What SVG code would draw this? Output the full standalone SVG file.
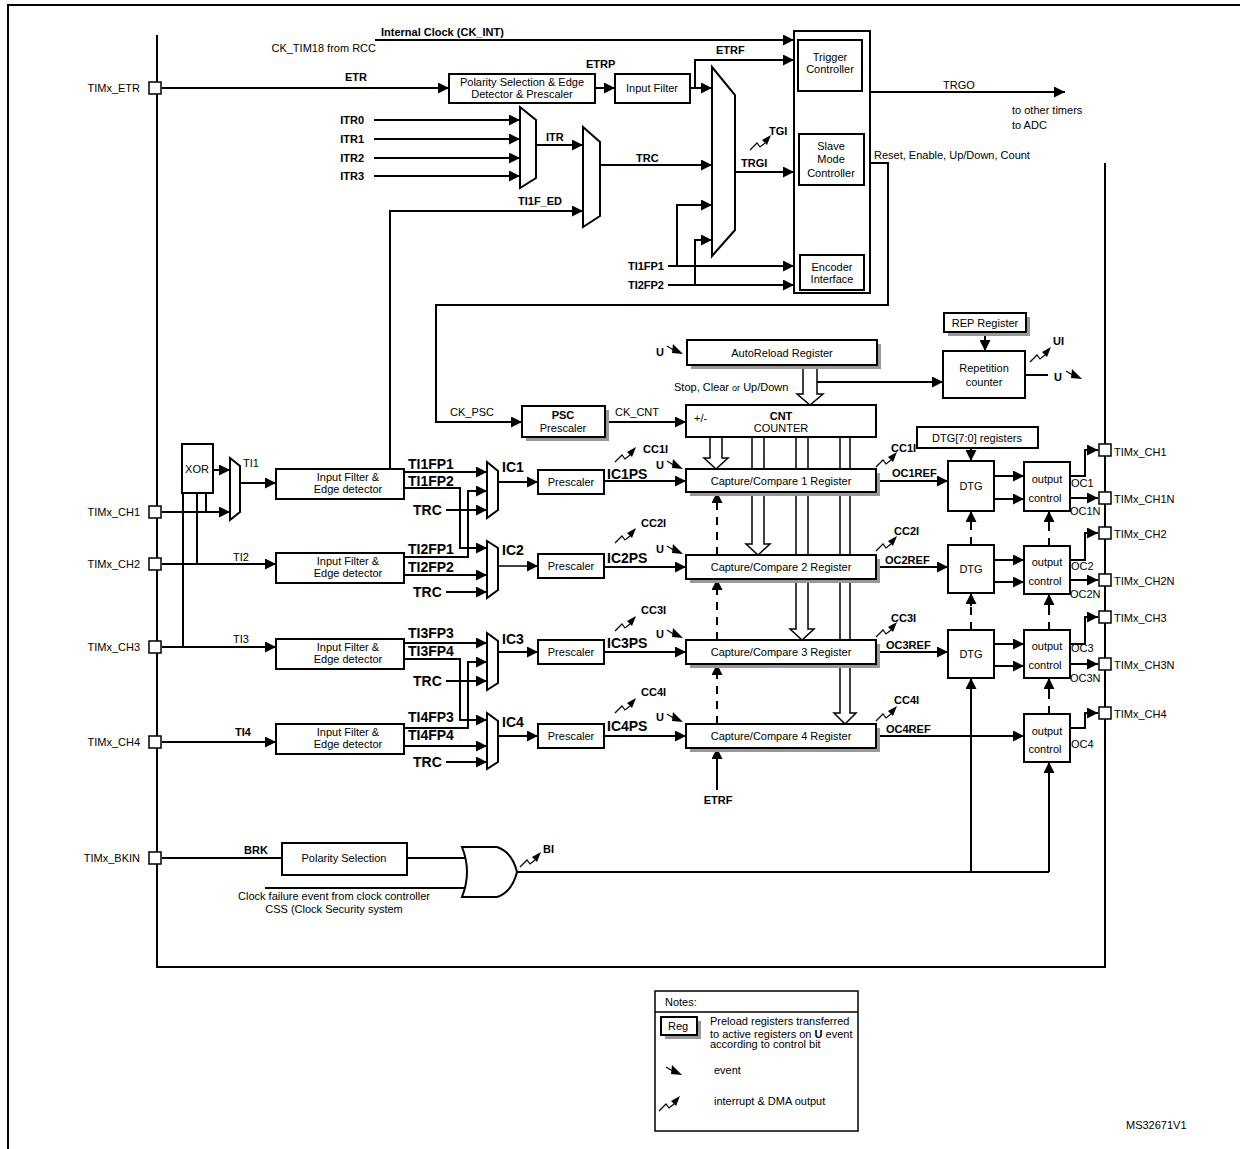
<svg xmlns="http://www.w3.org/2000/svg" width="1240" height="1149" viewBox="0 0 1240 1149">
<style>
text{font-family:"Liberation Sans",Arial,sans-serif;font-size:11px;fill:#000}
.b{font-weight:bold}
.m{text-anchor:middle}
.e{text-anchor:end}
.big{font-size:14px;font-weight:bold}
.box{fill:#fff;stroke:#000;stroke-width:2}
.sh{fill:#999}
.ln{fill:none;stroke:#000;stroke-width:2}
.thin{fill:none;stroke:#000;stroke-width:1.3}
.ar{marker-end:url(#a)}
.da{stroke-dasharray:8,7}
.ho{fill:#fff;stroke:#000;stroke-width:1.5}
</style>
<defs>
<marker id="a" viewBox="0 0 10 10" refX="10" refY="5" markerWidth="11" markerHeight="11" markerUnits="userSpaceOnUse" orient="auto"><path d="M0,0 L10,5 L0,10z"/></marker>
<symbol id="ev" overflow="visible"><path d="M0,0 L8,5 L8,1" fill="none" stroke="#000" stroke-width="1.2"/><path d="M6,-2 L16,8 L5,7z"/></symbol>
<symbol id="ir" overflow="visible"><path d="M0,10 L7,3 L10,7 L15,3" fill="none" stroke="#000" stroke-width="1.2"/><path d="M12,0 L21,-5 L17,5z"/></symbol>
</defs>
<rect width="1240" height="1149" fill="#fff"/>
<path d="M8,1149 V5 H1240" class="ln"/>
<path d="M157,35 V967 H1105 V163" class="ln" stroke-width="2.5"/>

<g id="connectors">
<path class="ln ar" d="M375,40 H794"/>
<path class="ln ar" d="M162,88 H449"/>
<path class="ln ar" d="M595,88 H615"/>
<path class="ln ar" d="M690,88 H712"/>
<path class="ln ar" d="M695,88 V60 H794"/>
<path class="ln ar" d="M374,120 H520"/>
<path class="ln ar" d="M374,139 H520"/>
<path class="ln ar" d="M374,158 H520"/>
<path class="ln ar" d="M374,176 H520"/>
<path class="ln ar" d="M536,145 H583"/>
<path class="ln ar" d="M390,469 V211 H583"/>
<path class="ln ar" d="M600,165 H712"/>
<path class="ln ar" d="M735,172 H794"/>
<path class="ln ar" d="M668,266 H794"/>
<path class="ln ar" d="M677,266 V205 H712"/>
<path class="ln ar" d="M668,285 H794"/>
<path class="ln ar" d="M695,285 V240 H712"/>
<path class="ln ar" d="M870,92 H1065"/>
<path class="ln ar" d="M870,163 H888 V305 H436 V422 H522"/>
<path class="ln ar" d="M605,422 H686"/>
<path class="ln ar" d="M817,382 H943"/>
<path class="ln ar" d="M985,332 V351"/>
<path class="ln" d="M1025,375 H1048"/>
<path class="ho" d="M803,365 V394 H797 L810,405 L823,394 H817 V365"/>
<path class="ho" d="M710,437 V458 H704 L716,469 L728,458 H722 V437"/>
<path class="ho" d="M752,437 V544 H746 L758,555 L770,544 H764 V437"/>
<path class="ho" d="M796,437 V629 H790 L802,640 L814,629 H808 V437"/>
<path class="ho" d="M840,437 V713 H834 L845,724 L856,713 H850 V437"/>
<!-- inputs -->
<path class="ln ar" d="M162,512 H230"/>
<path class="ln ar" d="M213,470 H230"/>
<path class="ln" d="M206,493 V512 M197,493 V564 M183,493 V647"/>
<path class="ln ar" d="M240,483 H276"/>
<path class="ln ar" d="M162,564 H276"/>
<path class="ln ar" d="M162,647 H276"/>
<path class="ln ar" d="M162,742 H276"/>
<path class="ln ar" d="M404,472 H487"/>
<path class="ln ar" d="M404,488 H460 V548 H487"/>
<path class="ln ar" d="M404,557 H468 V491 H487"/>
<path class="ln ar" d="M404,575 H487"/>
<path class="ln ar" d="M446,510 H487"/>
<path class="ln ar" d="M446,592 H487"/>
<path class="ln ar" d="M404,643 H487"/>
<path class="ln ar" d="M404,659 H460 V720 H487"/>
<path class="ln ar" d="M404,728 H468 V662 H487"/>
<path class="ln ar" d="M404,746 H487"/>
<path class="ln ar" d="M446,681 H487"/>
<path class="ln ar" d="M446,762 H487"/>
<path class="ln ar" d="M498,482 H538"/>
<path class="thin ar" d="M498,566 H538"/>
<path class="ln ar" d="M498,652 H538"/>
<path class="ln ar" d="M498,736 H538"/>
<path class="ln ar" d="M604,481 H686"/>
<path class="ln ar" d="M604,567 H686"/>
<path class="ln ar" d="M604,652 H686"/>
<path class="ln ar" d="M604,736 H686"/>
<path class="ln ar" d="M876,481 H948"/>
<path class="ln ar" d="M876,567 H948"/>
<path class="ln ar" d="M876,652 H948"/>
<path class="ln ar" d="M876,736 H1024"/>
<path class="ln ar" d="M994,476 H1024"/>
<path class="ln ar" d="M994,499 H1024"/>
<path class="ln ar" d="M994,560 H1024"/>
<path class="ln ar" d="M994,582 H1024"/>
<path class="ln ar" d="M994,644 H1024"/>
<path class="ln ar" d="M994,666 H1024"/>
<path class="ln ar" d="M1070,476 H1085 V450 H1098"/>
<path class="ln ar" d="M1070,498 H1098"/>
<path class="ln ar" d="M1070,560 H1085 V533 H1098"/>
<path class="ln ar" d="M1070,580 H1098"/>
<path class="ln ar" d="M1070,644 H1085 V617 H1098"/>
<path class="ln ar" d="M1070,664 H1098"/>
<path class="ln ar" d="M1070,728 H1085 V713 H1098"/>
<path class="ln ar" d="M971,448 V461"/>
<path class="ln da" d="M717,555 V504"/><path class="ln ar" d="M717,505 V492"/>
<path class="ln da" d="M717,640 V591"/><path class="ln ar" d="M717,592 V579"/>
<path class="ln da" d="M717,724 V676"/><path class="ln ar" d="M717,677 V664"/>
<path class="ln ar" d="M717,790 V748"/>
<path class="ln da" d="M971,545 V523"/><path class="ln ar" d="M971,524 V511"/>
<path class="ln da" d="M971,630 V605"/><path class="ln ar" d="M971,606 V593"/>
<path class="ln ar" d="M971,872 V678"/>
<path class="ln da" d="M1049,546 V523"/><path class="ln ar" d="M1049,524 V511"/>
<path class="ln da" d="M1049,630 V606"/><path class="ln ar" d="M1049,607 V594"/>
<path class="ln da" d="M1049,714 V690"/><path class="ln ar" d="M1049,691 V678"/>
<path class="ln ar" d="M1049,872 V762"/>
<path class="ln" d="M162,858 H282 M407,858 H468 M265,888 H468 M517,872 H1049"/>
</g>

<g id="muxes">
<polygon class="box" stroke-width="1.5" points="712,67 735,95 735,230 712,256"/>
<polygon class="box" stroke-width="1.5" points="520,107 536,120 536,178 520,188"/>
<polygon class="box" stroke-width="1.5" points="583,127 600,142 600,216 583,227"/>
<polygon class="box" stroke-width="1.5" points="230,458 240,466 240,512 230,520"/>
<polygon class="box" stroke-width="1.5" points="487,462 498,471 498,510 487,518"/>
<polygon class="box" stroke-width="1.5" points="487,541 498,548 498,590 487,598"/>
<polygon class="box" stroke-width="1.5" points="487,633 498,641 498,683 487,690"/>
<polygon class="box" stroke-width="1.5" points="487,713 498,721 498,762 487,769"/>
</g>

<g id="etr-polarity"><rect class="box" x="449" y="74" width="146" height="29"/><text class="m" x="522" y="86">Polarity Selection &amp; Edge</text><text class="m" x="522" y="98">Detector &amp; Prescaler</text></g>
<g id="etr-filter"><rect class="box" x="615" y="74" width="75" height="29"/><text class="m" x="652" y="92">Input Filter</text></g>
<g id="slave"><rect class="box" x="794" y="31" width="76" height="262"/>
<rect class="box" x="798" y="40" width="64" height="51"/><text class="m" x="830" y="61">Trigger</text><text class="m" x="830" y="73">Controller</text>
<rect class="box" x="799" y="134" width="65" height="51"/><text class="m" x="831" y="150">Slave</text><text class="m" x="831" y="163">Mode</text><text class="m" x="831" y="177">Controller</text>
<rect class="box" x="800" y="255" width="64" height="35"/><text class="m" x="832" y="271">Encoder</text><text class="m" x="832" y="283">Interface</text></g>

<g id="psc"><rect class="sh" x="526" y="410" width="83" height="31"/><rect class="box" x="522" y="406" width="83" height="31"/><text class="m b" x="563" y="419" font-size="14">PSC</text><text class="m" x="563" y="432">Prescaler</text></g>
<g id="arr"><rect class="sh" x="691" y="344" width="190" height="25"/><rect class="box" x="687" y="340" width="190" height="25"/><text class="m" x="782" y="357">AutoReload Register</text></g>
<g id="cnt"><rect class="box" x="686" y="405" width="190" height="32"/><text x="694" y="422" font-size="10">+/-</text><text class="m b" x="781" y="420" font-size="14">CNT</text><text class="m" x="781" y="432">COUNTER</text></g>
<g id="rep"><rect class="sh" x="948" y="317" width="82" height="19"/><rect class="box" x="944" y="313" width="82" height="19"/><text class="m" x="985" y="327">REP Register</text></g>
<g id="repcnt"><rect class="box" x="943" y="351" width="82" height="47"/><text class="m" x="984" y="372">Repetition</text><text class="m" x="984" y="386">counter</text></g>
<g id="dtgreg"><rect class="box" x="917" y="427" width="121" height="21"/><text class="m" x="977" y="442" font-size="12">DTG[7:0] registers</text></g>

<g id="ccr">
<rect class="sh" x="690" y="473" width="190" height="23"/><rect class="box" x="686" y="469" width="190" height="23"/><text class="m" x="781" y="485">Capture/Compare 1 Register</text>
<rect class="sh" x="690" y="559" width="190" height="24"/><rect class="box" x="686" y="555" width="190" height="24"/><text class="m" x="781" y="571">Capture/Compare 2 Register</text>
<rect class="sh" x="690" y="644" width="190" height="24"/><rect class="box" x="686" y="640" width="190" height="24"/><text class="m" x="781" y="656">Capture/Compare 3 Register</text>
<rect class="sh" x="690" y="728" width="190" height="24"/><rect class="box" x="686" y="724" width="190" height="24"/><text class="m" x="781" y="740">Capture/Compare 4 Register</text>
</g>
<g id="dtg">
<rect class="box" x="948" y="461" width="46" height="50"/><text class="m" x="971" y="490">DTG</text>
<rect class="box" x="948" y="545" width="46" height="48"/><text class="m" x="971" y="573">DTG</text>
<rect class="box" x="948" y="630" width="46" height="48"/><text class="m" x="971" y="658">DTG</text>
</g>
<g id="outctl">
<rect class="box" x="1024" y="462" width="46" height="49"/><text class="m" x="1047" y="483">output</text><text class="m" x="1045" y="502">control</text>
<rect class="box" x="1024" y="546" width="46" height="48"/><text class="m" x="1047" y="566">output</text><text class="m" x="1045" y="585">control</text>
<rect class="box" x="1024" y="630" width="46" height="48"/><text class="m" x="1047" y="650">output</text><text class="m" x="1045" y="669">control</text>
<rect class="box" x="1024" y="714" width="46" height="48"/><text class="m" x="1047" y="735">output</text><text class="m" x="1045" y="753">control</text>
</g>
<g id="xor"><rect class="box" x="182" y="444" width="31" height="49"/><text class="m" x="197" y="473">XOR</text></g>
<g id="filters">
<rect class="box" x="276" y="469" width="128" height="30"/><text class="m" x="348" y="481">Input Filter &amp;</text><text class="m" x="348" y="493">Edge detector</text>
<rect class="box" x="276" y="553" width="128" height="30"/><text class="m" x="348" y="565">Input Filter &amp;</text><text class="m" x="348" y="577">Edge detector</text>
<rect class="box" x="276" y="639" width="128" height="30"/><text class="m" x="348" y="651">Input Filter &amp;</text><text class="m" x="348" y="663">Edge detector</text>
<rect class="box" x="276" y="724" width="128" height="30"/><text class="m" x="348" y="736">Input Filter &amp;</text><text class="m" x="348" y="748">Edge detector</text>
</g>
<g id="prescalers">
<rect class="box" x="538" y="470" width="66" height="24"/><text class="m" x="571" y="486">Prescaler</text>
<rect class="box" x="538" y="554" width="66" height="24"/><text class="m" x="571" y="570">Prescaler</text>
<rect class="box" x="538" y="640" width="66" height="24"/><text class="m" x="571" y="656">Prescaler</text>
<rect class="box" x="538" y="724" width="66" height="24"/><text class="m" x="571" y="740">Prescaler</text>
</g>
<g id="brk"><rect class="box" x="282" y="843" width="125" height="32"/><text class="m" x="344" y="862">Polarity Selection</text></g>
<g id="or"><path class="box" d="M462,847 H497 Q512,852 517,872 Q512,892 497,897 H462 Q472,872 462,847z"/></g>

<g id="pins" fill="#fff" stroke="#000" stroke-width="1.5">
<rect x="149" y="82" width="12" height="12"/>
<rect x="149" y="506" width="12" height="12"/>
<rect x="149" y="558" width="12" height="12"/>
<rect x="149" y="641" width="12" height="12"/>
<rect x="149" y="736" width="12" height="12"/>
<rect x="149" y="852" width="12" height="12"/>
<rect x="1099" y="444" width="12" height="12"/>
<rect x="1099" y="492" width="12" height="12"/>
<rect x="1099" y="527" width="12" height="12"/>
<rect x="1099" y="574" width="12" height="12"/>
<rect x="1099" y="611" width="12" height="12"/>
<rect x="1099" y="658" width="12" height="12"/>
<rect x="1099" y="707" width="12" height="12"/>
</g>

<g id="icons">
<use href="#ir" x="750" y="140"/>
<use href="#ir" x="1030" y="352"/>
<use href="#ir" x="615" y="452"/>
<use href="#ir" x="615" y="533"/>
<use href="#ir" x="615" y="621"/>
<use href="#ir" x="615" y="703"/>
<use href="#ir" x="876" y="457"/>
<use href="#ir" x="876" y="541"/>
<use href="#ir" x="876" y="627"/>
<use href="#ir" x="876" y="711"/>
<use href="#ir" x="520" y="857"/>
<use href="#ev" x="667" y="346"/>
<use href="#ev" x="667" y="461"/>
<use href="#ev" x="667" y="546"/>
<use href="#ev" x="667" y="630"/>
<use href="#ev" x="667" y="714"/>
<use href="#ev" x="1066" y="371"/>
</g>

<g id="labels">
<text class="b" x="381" y="36">Internal Clock (CK_INT)</text>
<text class="e" x="376" y="52" font-size="12">CK_TIM18 from RCC</text>
<text class="e" x="140" y="92" font-size="12">TIMx_ETR</text>
<text class="b" x="345" y="81">ETR</text>
<text class="b" x="586" y="68">ETRP</text>
<text class="b" x="716" y="54">ETRF</text>
<text class="b e" x="364" y="124">ITR0</text>
<text class="b e" x="364" y="143">ITR1</text>
<text class="b e" x="364" y="162">ITR2</text>
<text class="b e" x="364" y="180">ITR3</text>
<text class="b" x="546" y="141">ITR</text>
<text class="b" x="518" y="205">TI1F_ED</text>
<text class="b" x="636" y="162">TRC</text>
<text class="b" x="741" y="167">TRGI</text>
<text class="b" x="769" y="135">TGI</text>
<text class="b e" x="664" y="270">TI1FP1</text>
<text class="b e" x="664" y="289">TI2FP2</text>
<text class="m" x="959" y="89">TRGO</text>
<text x="1012" y="114" font-size="12">to other timers</text>
<text x="1012" y="129" font-size="12">to ADC</text>
<text x="874" y="159">Reset, Enable, Up/Down, Count</text>
<text class="b" x="656" y="356">U</text>
<text x="674" y="391">Stop, Clear <tspan font-size="9">or</tspan> Up/Down</text>
<text x="450" y="416" font-size="12">CK_PSC</text>
<text x="615" y="416" font-size="12">CK_CNT</text>
<text class="b" x="1053" y="345">UI</text>
<text class="b" x="1054" y="381">U</text>
<text class="e" x="140" y="516" font-size="12">TIMx_CH1</text>
<text class="e" x="140" y="568" font-size="12">TIMx_CH2</text>
<text class="e" x="140" y="651" font-size="12">TIMx_CH3</text>
<text class="e" x="140" y="746" font-size="12">TIMx_CH4</text>
<text class="e" x="140" y="862" font-size="12">TIMx_BKIN</text>
<text x="243" y="467" font-size="12">TI1</text>
<text x="233" y="561" font-size="12">TI2</text>
<text x="233" y="643" font-size="12">TI3</text>
<text class="b" x="235" y="736" font-size="13">TI4</text>
<text class="big" x="408" y="469">TI1FP1</text>
<text class="big" x="408" y="486">TI1FP2</text>
<text class="big" x="408" y="554">TI2FP1</text>
<text class="big" x="408" y="572">TI2FP2</text>
<text class="big" x="408" y="638">TI3FP3</text>
<text class="big" x="408" y="656">TI3FP4</text>
<text class="big" x="408" y="722">TI4FP3</text>
<text class="big" x="408" y="740">TI4FP4</text>
<text class="big" x="413" y="515">TRC</text>
<text class="big" x="413" y="597">TRC</text>
<text class="big" x="413" y="686">TRC</text>
<text class="big" x="413" y="767">TRC</text>
<text class="big" x="502" y="472">IC1</text>
<text class="big" x="502" y="555">IC2</text>
<text class="big" x="502" y="644">IC3</text>
<text class="big" x="502" y="727">IC4</text>
<text class="big" x="607" y="479">IC1PS</text>
<text class="big" x="607" y="563">IC2PS</text>
<text class="big" x="607" y="648">IC3PS</text>
<text class="big" x="607" y="731">IC4PS</text>
<text class="b" x="643" y="453">CC1I</text>
<text class="b" x="641" y="527">CC2I</text>
<text class="b" x="641" y="614">CC3I</text>
<text class="b" x="641" y="696">CC4I</text>
<text class="b" x="656" y="469">U</text>
<text class="b" x="656" y="553">U</text>
<text class="b" x="656" y="638">U</text>
<text class="b" x="656" y="721">U</text>
<text class="b" x="891" y="452">CC1I</text>
<text class="b" x="894" y="535">CC2I</text>
<text class="b" x="891" y="622">CC3I</text>
<text class="b" x="894" y="704">CC4I</text>
<text class="b" x="892" y="477">OC1REF</text>
<text class="b" x="885" y="564">OC2REF</text>
<text class="b" x="886" y="649">OC3REF</text>
<text class="b" x="886" y="733">OC4REF</text>
<text x="1071" y="487">OC1</text>
<text x="1070" y="515">OC1N</text>
<text x="1071" y="570">OC2</text>
<text x="1070" y="598">OC2N</text>
<text x="1071" y="652">OC3</text>
<text x="1070" y="682">OC3N</text>
<text x="1071" y="748">OC4</text>
<text x="1114" y="456" font-size="12">TIMx_CH1</text>
<text x="1114" y="503" font-size="12">TIMx_CH1N</text>
<text x="1114" y="538" font-size="12">TIMx_CH2</text>
<text x="1114" y="585" font-size="12">TIMx_CH2N</text>
<text x="1114" y="622" font-size="12">TIMx_CH3</text>
<text x="1114" y="669" font-size="12">TIMx_CH3N</text>
<text x="1114" y="718" font-size="12">TIMx_CH4</text>
<text class="b m" x="718" y="804">ETRF</text>
<text class="b" x="244" y="854" font-size="13">BRK</text>
<text class="b" x="543" y="853">BI</text>
<text class="m" x="334" y="900">Clock failure event from clock controller</text>
<text class="m" x="334" y="913">CSS (Clock Security system</text>
<text x="1126" y="1129" font-size="13">MS32671V1</text>
</g>

<g id="notes">
<rect x="655" y="991" width="203" height="140" fill="#fff" stroke="#000" stroke-width="1.5"/>
<path d="M655,1012 H858" class="thin"/>
<text x="665" y="1006">Notes:</text>
<rect class="sh" x="665" y="1021" width="36" height="18"/>
<rect x="661" y="1017" width="36" height="18" fill="#fff" stroke="#000" stroke-width="2"/>
<text x="668" y="1030" font-size="9">Reg</text>
<text x="710" y="1025" font-size="9">Preload registers transferred</text>
<text x="710" y="1038" font-size="9">to active registers on <tspan font-weight="bold">U</tspan> event</text>
<text x="710" y="1048" font-size="9">according to control bit</text>
<use href="#ev" x="666" y="1067"/>
<text x="714" y="1074" font-size="9">event</text>
<use href="#ir" x="659" y="1101"/>
<text x="714" y="1105" font-size="9">interrupt &amp; DMA output</text>
</g>
</svg>
